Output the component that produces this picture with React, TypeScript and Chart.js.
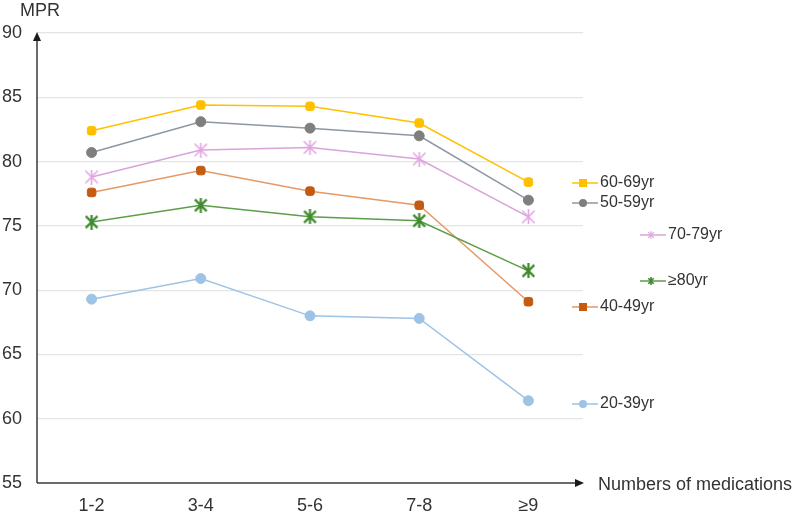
import { useEffect, useRef } from 'react';
import { Chart, registerables } from 'chart.js';

Chart.register(...registerables);

const categories = ['1-2', '3-4', '5-6', '7-8', '≥9'];
const yTicks = [55, 60, 65, 70, 75, 80, 85, 90];
const age60_69 = [82.4, 84.4, 84.3, 83.0, 78.4];
const age50_59 = [80.7, 83.1, 82.6, 82.0, 77.0];
const age70_79 = [78.8, 80.9, 81.1, 80.2, 75.7];
const age40_49 = [77.6, 79.3, 77.7, 76.6, 69.1];
const age80plus = [75.3, 76.6, 75.7, 75.4, 71.5];
const age20_39 = [69.3, 70.9, 68.0, 67.8, 61.4];
const seriesNames = ['60-69yr', '50-59yr', '70-79yr', '≥80yr', '40-49yr', '20-39yr'];

const FONT = '"Liberation Sans", Arial, sans-serif';
const TEXT = '#333333';

function makeStar(color: string, size: number, lw: number) {
  const c = document.createElement('canvas');
  c.width = size;
  c.height = size;
  const ctx = c.getContext('2d')!;
  ctx.strokeStyle = color;
  ctx.lineWidth = lw;
  const m = lw / 2 + 0.5;
  ctx.beginPath();
  ctx.moveTo(m, m);
  ctx.lineTo(size - m, size - m);
  ctx.moveTo(size - m, m);
  ctx.lineTo(m, size - m);
  ctx.moveTo(size / 2, 0);
  ctx.lineTo(size / 2, size);
  ctx.stroke();
  return c;
}

export default function App() {
  const ref = useRef<HTMLCanvasElement | null>(null);

  useEffect(() => {
    const pinkStar = makeStar('#e2a6e2', 15, 1.6);
    const greenStar = makeStar('#3f8a2c', 15, 2.2);
    const pinkStarS = makeStar('#e2a6e2', 8, 1.2);
    const greenStarS = makeStar('#3f8a2c', 8, 1.6);

    const styles = [
      { line: '#ffc000', fill: '#ffc000', ps: 'rectRounded' as any, r: 5, legend: 'rect' },
      { line: '#8c97a3', fill: '#7f7f7f', ps: 'circle' as any, r: 5, legend: 'circle' },
      { line: '#d9a3d9', fill: '#e2a6e2', ps: pinkStar as any, r: 7, legend: pinkStarS },
      { line: '#5c9e4a', fill: '#3f8a2c', ps: greenStar as any, r: 7, legend: greenStarS },
      { line: '#e39a66', fill: '#c55a11', ps: 'rectRounded' as any, r: 5, legend: 'rect' },
      { line: '#9dc3e6', fill: '#9dc3e6', ps: 'circle' as any, r: 5, legend: 'circle' },
    ];
    const values = [age60_69, age50_59, age70_79, age80plus, age40_49, age20_39];
    // legend label anchors (pixel layout): markerX, textY
    const legendLayout = [
      [583, 183],
      [583, 203],
      [651, 235],
      [651, 281],
      [583, 307],
      [583, 404],
    ];

    const overlay = {
      id: 'overlay',
      afterDraw(chart: any) {
        const ctx = chart.ctx as CanvasRenderingContext2D;
        const a = chart.chartArea;
        ctx.save();
        // axes
        ctx.strokeStyle = '#3a3a3a';
        ctx.fillStyle = '#1a1a1a';
        ctx.lineWidth = 1.5;
        ctx.beginPath();
        ctx.moveTo(a.left, a.bottom);
        ctx.lineTo(a.left, a.top + 4);
        ctx.moveTo(a.left, a.bottom);
        ctx.lineTo(a.right - 4, a.bottom);
        ctx.stroke();
        ctx.beginPath();
        ctx.moveTo(a.left, a.top - 1);
        ctx.lineTo(a.left - 4, a.top + 8);
        ctx.lineTo(a.left + 4, a.top + 8);
        ctx.closePath();
        ctx.fill();
        ctx.beginPath();
        ctx.moveTo(a.right + 1, a.bottom);
        ctx.lineTo(a.right - 8, a.bottom - 4);
        ctx.lineTo(a.right - 8, a.bottom + 4);
        ctx.closePath();
        ctx.fill();
        // axis titles
        ctx.fillStyle = TEXT;
        ctx.font = `18px ${FONT}`;
        ctx.textBaseline = 'middle';
        ctx.textAlign = 'left';
        ctx.fillText('MPR', 20, 11);
        ctx.fillText('Numbers of medications', a.right + 15, a.bottom + 2);
        // legend labels
        ctx.font = `16px ${FONT}`;
        seriesNames.forEach((name, i) => {
          const [mx, ty] = legendLayout[i];
          const st = styles[i];
          ctx.strokeStyle = st.line;
          ctx.lineWidth = 1.5;
          ctx.beginPath();
          ctx.moveTo(mx - 11, ty);
          ctx.lineTo(mx + 15, ty);
          ctx.stroke();
          ctx.fillStyle = st.fill;
          if (st.legend === 'rect') {
            ctx.fillRect(mx - 4, ty - 4, 8, 8);
          } else if (st.legend === 'circle') {
            ctx.beginPath();
            ctx.arc(mx, ty, 4, 0, Math.PI * 2);
            ctx.fill();
          } else {
            ctx.drawImage(st.legend as any, mx - 4, ty - 4);
          }
          ctx.fillStyle = TEXT;
          ctx.fillText(name, mx + 17, ty);
        });
        ctx.restore();
      },
    };

    const chart = new Chart(ref.current!, {
      type: 'line',
      data: {
        labels: categories,
        datasets: values.map((v, i) => ({
          label: seriesNames[i],
          data: v,
          borderColor: styles[i].line,
          backgroundColor: styles[i].fill,
          borderWidth: 1.5,
          pointStyle: styles[i].ps,
          pointRadius: styles[i].r,
          pointBackgroundColor: styles[i].fill,
          pointBorderColor: styles[i].fill,
          pointBorderWidth: 1,
          tension: 0,
        })),
      },
      options: {
        animation: false,
        responsive: false,
        events: [],
        layout: { padding: { left: 0, right: 217, top: 33, bottom: 0 } },
        plugins: {
          legend: { display: false },
          tooltip: { enabled: false },
        },
        scales: {
          x: {
            type: 'category',
            offset: true,
            grid: { display: false, drawTicks: false },
            border: { display: false },
            ticks: {
              color: TEXT,
              font: { family: FONT, size: 18 },
              padding: 12,
            },
            afterFit: (s: any) => {
              s.height = 29;
            },
          },
          y: {
            min: 55,
            max: 90,
            afterBuildTicks: (s: any) => {
              s.ticks = yTicks.map((v) => ({ value: v }));
            },
            grid: {
              color: (c: any) => (c.tick && c.tick.value === 55 ? 'rgba(0,0,0,0)' : '#e4e4e4'),
              lineWidth: 1.2,
              drawTicks: false,
            },
            border: { display: false },
            ticks: {
              color: TEXT,
              font: { family: FONT, size: 18 },
              padding: 15,
            },
            afterFit: (s: any) => {
              s.width = 37;
            },
          },
        },
      },
      plugins: [overlay],
    });
    return () => chart.destroy();
  }, []);

  return (
    <div style={{ position: 'fixed', left: 0, top: 0, width: 800, height: 512, background: '#fff' }}>
      <canvas ref={ref} width={800} height={512} style={{ width: 800, height: 512 }} />
    </div>
  );
}
